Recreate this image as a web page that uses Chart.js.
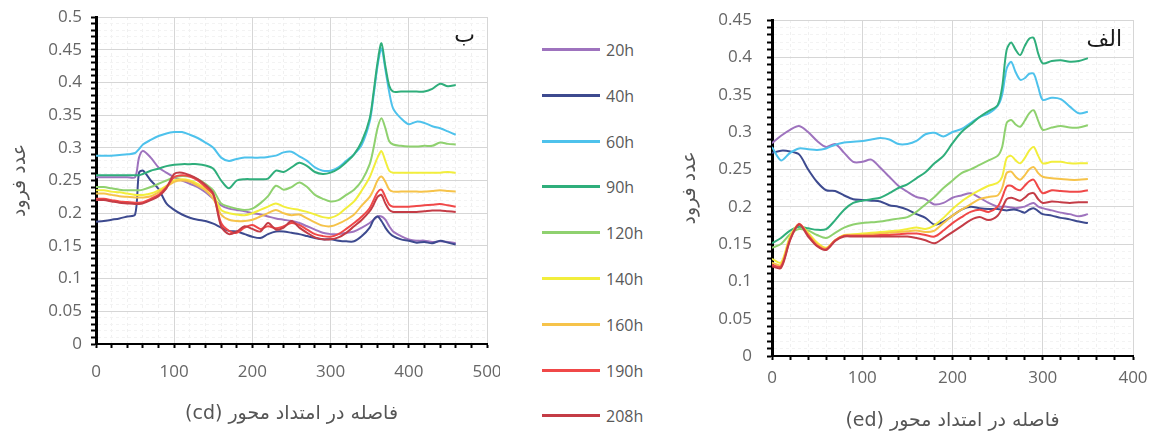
<!DOCTYPE html>
<html>
<head>
<meta charset="utf-8">
<script src="https://cdn.jsdelivr.net/npm/chart.js@4.4.1/dist/chart.umd.min.js"></script>
<style>
  body { margin: 0; background: #fff; width: 1150px; height: 432px; overflow: hidden; position: relative; }
  canvas { position: absolute; top: 0; }
  #chartB { left: 0; }
  #chartA { left: 650px; }
  #legend { position: absolute; left: 540px; top: 0; width: 120px; height: 432px; }
  .item { position: absolute; left: 0; width: 120px; height: 20px; }
  .item .sw { position: absolute; left: 2px; top: 9px; width: 58px; height: 3px; }
  .item .tx { position: absolute; left: 66px; top: 0; line-height: 20px; font: 16px 'Open Sans', sans-serif; color: #595959; }
</style>
</head>
<body>
<canvas id="chartB" width="500" height="432" dir="rtl"></canvas>
<div id="legend"></div>
<canvas id="chartA" width="500" height="432" dir="rtl"></canvas>
<script>
// series shared by both panels
const seriesNames = ['20h', '40h', '60h', '90h', '120h', '140h', '160h', '190h', '208h'];
const seriesColors = ['#9e73be', '#3d4a8f', '#4ec2ec', '#2fae7b', '#8fd16f', '#f2ee3c', '#f6c34a', '#f04848', '#c43c46'];

// left panel (ب): distance along cd
const xB = [0, 10, 20, 30, 40, 50, 55, 60, 70, 80, 90, 100, 110, 120, 130, 140, 150, 160, 170, 180, 190, 200, 210, 220, 230, 240, 250, 260, 270, 280, 290, 300, 310, 320, 330, 340, 350, 355, 360, 365, 370, 375, 380, 390, 400, 410, 420, 430, 440, 450, 460];
const b20 = [0.255, 0.255, 0.255, 0.255, 0.255, 0.255, 0.285, 0.295, 0.285, 0.27, 0.262, 0.255, 0.25, 0.245, 0.24, 0.232, 0.222, 0.212, 0.207, 0.205, 0.203, 0.2, 0.198, 0.195, 0.192, 0.19, 0.188, 0.185, 0.18, 0.175, 0.17, 0.168, 0.168, 0.17, 0.172, 0.178, 0.185, 0.19, 0.195, 0.195, 0.19, 0.18, 0.172, 0.165, 0.16, 0.158, 0.158, 0.156, 0.157, 0.156, 0.154];
const b40 = [0.187, 0.188, 0.19, 0.192, 0.195, 0.198, 0.262, 0.265, 0.25, 0.237, 0.215, 0.205, 0.198, 0.193, 0.19, 0.188, 0.184, 0.178, 0.173, 0.172, 0.168, 0.164, 0.162, 0.168, 0.172, 0.172, 0.17, 0.168, 0.165, 0.162, 0.16, 0.16, 0.158, 0.157, 0.157, 0.165, 0.178, 0.19, 0.195, 0.188, 0.178, 0.17, 0.165, 0.16, 0.158, 0.155, 0.156, 0.154, 0.158, 0.155, 0.152];
const b60 = [0.288, 0.288, 0.288, 0.289, 0.29, 0.292, 0.298, 0.305, 0.312, 0.318, 0.322, 0.324, 0.324, 0.32, 0.315, 0.308, 0.3, 0.285, 0.28, 0.283, 0.285, 0.285, 0.285, 0.286, 0.288, 0.293, 0.294, 0.287, 0.28, 0.27, 0.265, 0.265, 0.27, 0.28, 0.29, 0.305, 0.34, 0.38, 0.425, 0.452, 0.42, 0.385, 0.36, 0.345, 0.336, 0.34, 0.338, 0.333, 0.33, 0.325, 0.32];
const b90 = [0.258, 0.258, 0.258, 0.258, 0.258, 0.258, 0.258, 0.26, 0.265, 0.268, 0.272, 0.274, 0.275, 0.275, 0.275, 0.273, 0.268, 0.25, 0.238, 0.25, 0.252, 0.252, 0.252, 0.253, 0.265, 0.263, 0.27, 0.277, 0.272, 0.263, 0.26, 0.262, 0.268, 0.278, 0.29, 0.31, 0.345, 0.385, 0.43, 0.46, 0.425, 0.395, 0.386, 0.386, 0.386, 0.386, 0.386, 0.39, 0.398, 0.394, 0.396];
const b120 = [0.24, 0.24, 0.238, 0.236, 0.235, 0.235, 0.235, 0.236, 0.24, 0.245, 0.25, 0.255, 0.257, 0.256, 0.252, 0.245, 0.235, 0.215, 0.21, 0.207, 0.205, 0.207, 0.215, 0.226, 0.242, 0.236, 0.24, 0.247, 0.24, 0.228, 0.222, 0.218, 0.22, 0.228, 0.236, 0.25, 0.275, 0.3, 0.33, 0.345, 0.33, 0.31, 0.305, 0.303, 0.302, 0.302, 0.303, 0.303, 0.308, 0.306, 0.305];
const b140 = [0.235, 0.235, 0.233, 0.232, 0.23, 0.228, 0.228, 0.228, 0.23, 0.235, 0.242, 0.25, 0.252, 0.25, 0.245, 0.238, 0.228, 0.205, 0.2, 0.198, 0.197, 0.2, 0.205, 0.21, 0.215, 0.21, 0.207, 0.205, 0.202, 0.198, 0.194, 0.193, 0.198, 0.208, 0.218, 0.235, 0.255, 0.27, 0.285, 0.295, 0.28, 0.265, 0.262, 0.262, 0.262, 0.262, 0.262, 0.262, 0.262, 0.263, 0.262];
const b160 = [0.23, 0.23, 0.228, 0.226, 0.225, 0.224, 0.224, 0.224, 0.226, 0.232, 0.24, 0.248, 0.25, 0.248, 0.242, 0.235, 0.222, 0.198, 0.19, 0.188, 0.188, 0.19, 0.195, 0.2, 0.205, 0.2, 0.197, 0.198, 0.192, 0.186, 0.181, 0.18, 0.184, 0.19, 0.198, 0.212, 0.225, 0.236, 0.25, 0.256, 0.248, 0.236, 0.233, 0.233, 0.233, 0.233, 0.233, 0.234, 0.235, 0.234, 0.233];
const b190 = [0.222, 0.222, 0.22, 0.218, 0.217, 0.216, 0.216, 0.217, 0.222, 0.228, 0.24, 0.255, 0.258, 0.256, 0.25, 0.24, 0.228, 0.185, 0.173, 0.17, 0.178, 0.182, 0.176, 0.18, 0.177, 0.18, 0.185, 0.182, 0.175, 0.168, 0.165, 0.164, 0.168, 0.176, 0.185, 0.195, 0.208, 0.22, 0.232, 0.236, 0.225, 0.213, 0.21, 0.21, 0.21, 0.211, 0.212, 0.213, 0.214, 0.212, 0.21];
const b208 = [0.22, 0.22, 0.218, 0.216, 0.215, 0.214, 0.214, 0.215, 0.22, 0.226, 0.238, 0.26, 0.262, 0.258, 0.252, 0.243, 0.23, 0.18, 0.168, 0.172, 0.18, 0.176, 0.172, 0.185, 0.175, 0.178, 0.188, 0.178, 0.17, 0.163, 0.16, 0.16, 0.163, 0.17, 0.18, 0.19, 0.203, 0.213, 0.225, 0.228, 0.215, 0.205, 0.202, 0.202, 0.202, 0.202, 0.203, 0.204, 0.204, 0.203, 0.202];

// right panel (الف): distance along ed
const xA = [0, 10, 20, 30, 40, 50, 60, 70, 80, 90, 100, 110, 120, 130, 140, 150, 160, 170, 180, 190, 200, 210, 220, 230, 240, 250, 255, 260, 265, 270, 275, 280, 285, 290, 295, 300, 310, 320, 330, 340, 350];
const a20 = [0.285, 0.295, 0.303, 0.308, 0.3, 0.288, 0.28, 0.284, 0.272, 0.26, 0.26, 0.263, 0.252, 0.24, 0.228, 0.22, 0.213, 0.21, 0.203, 0.205, 0.212, 0.215, 0.218, 0.212, 0.205, 0.2, 0.2, 0.2, 0.199, 0.198, 0.199, 0.2, 0.203, 0.205, 0.2, 0.198, 0.195, 0.192, 0.19, 0.187, 0.19];
const a40 = [0.272, 0.275, 0.274, 0.27, 0.25, 0.233, 0.222, 0.221, 0.215, 0.21, 0.209, 0.208, 0.207, 0.202, 0.2, 0.196, 0.19, 0.185, 0.176, 0.18, 0.188, 0.196, 0.2, 0.198, 0.197, 0.197, 0.196, 0.195, 0.196, 0.196, 0.194, 0.192, 0.196, 0.198, 0.194, 0.19, 0.188, 0.185, 0.183, 0.18, 0.178];
const a60 = [0.28, 0.262, 0.272, 0.278, 0.277, 0.276, 0.278, 0.283, 0.286, 0.287, 0.288, 0.29, 0.292, 0.29, 0.284, 0.284, 0.288, 0.297, 0.299, 0.294, 0.3, 0.304, 0.312, 0.32, 0.325, 0.335, 0.35, 0.385, 0.394, 0.38, 0.37, 0.372, 0.378, 0.378, 0.36, 0.343, 0.346, 0.344, 0.334, 0.325, 0.327];
const a90 = [0.151, 0.158, 0.168, 0.173, 0.171, 0.169, 0.17, 0.182, 0.196, 0.205, 0.208, 0.21, 0.212, 0.218, 0.225, 0.23, 0.238, 0.246, 0.258, 0.268, 0.285, 0.3, 0.31, 0.32, 0.328, 0.336, 0.36, 0.41, 0.42, 0.41, 0.403, 0.415, 0.425, 0.426, 0.405, 0.392, 0.395, 0.396, 0.394, 0.395, 0.399];
const a120 = [0.145, 0.15, 0.163, 0.17, 0.168, 0.162, 0.158, 0.165, 0.172, 0.176, 0.178, 0.179, 0.18, 0.182, 0.184, 0.186, 0.193, 0.203, 0.213, 0.225, 0.235, 0.245, 0.25, 0.256, 0.262, 0.268, 0.28, 0.312, 0.316, 0.31, 0.307, 0.315, 0.325, 0.329, 0.315, 0.303, 0.306, 0.308, 0.306, 0.306, 0.309];
const a140 = [0.13, 0.125, 0.16, 0.176, 0.165, 0.152, 0.145, 0.155, 0.162, 0.163, 0.164, 0.165, 0.166, 0.167, 0.168, 0.17, 0.172, 0.17, 0.175, 0.185, 0.197, 0.207, 0.215, 0.222, 0.228, 0.232, 0.24, 0.265, 0.268, 0.262, 0.258, 0.265, 0.275, 0.28, 0.268, 0.258, 0.26, 0.26, 0.258, 0.258, 0.258];
const a160 = [0.125, 0.122, 0.158, 0.176, 0.163, 0.15, 0.144, 0.155, 0.161, 0.162, 0.162, 0.163, 0.164, 0.165, 0.166, 0.167, 0.168, 0.166, 0.168, 0.178, 0.188, 0.196, 0.203, 0.21, 0.213, 0.215, 0.225, 0.245, 0.247, 0.24, 0.236, 0.242, 0.25, 0.253, 0.245, 0.24, 0.238, 0.237, 0.236, 0.236, 0.237];
const a190 = [0.122, 0.12, 0.156, 0.177, 0.162, 0.148, 0.143, 0.155, 0.161, 0.161, 0.161, 0.161, 0.162, 0.162, 0.163, 0.164, 0.164, 0.162, 0.16, 0.168, 0.178, 0.186, 0.193, 0.196, 0.193, 0.2, 0.212, 0.227, 0.228, 0.224, 0.222, 0.228, 0.234, 0.236, 0.226, 0.218, 0.222, 0.221, 0.22, 0.22, 0.222];
const a208 = [0.12, 0.118, 0.155, 0.176, 0.16, 0.147, 0.142, 0.154, 0.16, 0.16, 0.16, 0.16, 0.16, 0.16, 0.16, 0.16, 0.158, 0.155, 0.151, 0.158, 0.166, 0.174, 0.182, 0.186, 0.182, 0.188, 0.198, 0.21, 0.212, 0.21, 0.208, 0.212, 0.217, 0.218, 0.21, 0.205, 0.207, 0.206, 0.205, 0.206, 0.206];

const yTitle = 'عدد فرود';
const tickFont = { family: "'Open Sans', 'DejaVu Sans', sans-serif", size: 17 };
const arabicFont = { family: "'DejaVu Sans', sans-serif", size: 19 };

// label in the top right corner of the plot
const cornerLabel = {
  id: 'cornerLabel',
  afterDatasetsDraw(chart, args, opts) {
    const { ctx, chartArea } = chart;
    ctx.save();
    ctx.font = "22px 'DejaVu Sans', sans-serif";
    ctx.fillStyle = '#1a1a1a';
    ctx.textAlign = 'right';
    ctx.textBaseline = 'middle';
    ctx.fillText(opts.text, chartArea.right - opts.dx, chartArea.top + opts.dy);
    ctx.restore();
  }
};

function points(xs, ys) {
  return xs.map((x, i) => ({ x: x, y: ys[i] }));
}

function makeChart(id, xs, allYs, o) {
  const isMajorX = v => v % 100 === 0;
  const isMajorY = v => Math.round(v * 100) % 5 === 0;
  return new Chart(document.getElementById(id), {
    type: 'line',
    data: {
      datasets: allYs.map((ys, i) => ({
        label: seriesNames[i],
        data: points(xs, ys),
        borderColor: seriesColors[i],
        borderWidth: 2,
        pointRadius: 0,
        tension: 0.3,
        fill: false,
        order: -i
      }))
    },
    options: {
      responsive: false,
      animation: false,
      layout: { padding: o.padding },
      plugins: {
        legend: { display: false },
        tooltip: { enabled: false },
        cornerLabel: { text: o.corner, dx: o.cornerDx, dy: o.cornerDy }
      },
      scales: {
        x: {
          type: 'linear',
          min: 0,
          max: o.xMax,
          afterFit: s => { s.height = o.xAxisH; s.paddingLeft = 0; s.paddingRight = 0; },
          ticks: {
            stepSize: 20, autoSkip: false, maxRotation: 0, padding: o.xTickPad,
            color: '#666', font: tickFont,
            callback: v => isMajorX(v) ? String(v) : ''
          },
          grid: {
            color: c => (c.tick && isMajorX(c.tick.value)) ? '#d6d6d6' : '#f0f0f0',
            tickColor: '#000', tickLength: 4, tickWidth: 2
          },
          border: {
            color: '#000', width: 2,
            dash: c => (c.tick && !isMajorX(c.tick.value)) ? [3, 3] : []
          },
          title: {
            display: true, text: o.xTitle, color: '#555', font: arabicFont,
            padding: { top: 0, bottom: o.xTitlePad }
          }
        },
        y: {
          min: 0,
          max: o.yMax,
          afterFit: s => { s.width = o.yAxisW; s.paddingTop = 0; s.paddingBottom = 0; },
          ticks: {
            stepSize: 0.01, autoSkip: false, padding: o.yTickPad,
            color: '#666', font: tickFont,
            callback: v => isMajorY(v) ? String(Math.round(v * 100) / 100) : ''
          },
          grid: {
            color: c => (c.tick && isMajorY(c.tick.value)) ? '#d6d6d6' : '#f3f3f3',
            tickColor: '#000', tickLength: 5, tickWidth: 2
          },
          border: {
            color: '#000', width: 3,
            dash: c => (c.tick && !isMajorY(c.tick.value)) ? [3, 3] : []
          },
          title: {
            display: true, text: yTitle, color: '#555', font: arabicFont,
            padding: { top: o.yTitlePad, bottom: 0 }
          }
        }
      }
    },
    plugins: [cornerLabel]
  });
}

makeChart('chartB', xB, [b20, b40, b60, b90, b120, b140, b160, b190, b208], {
  xMax: 500, yMax: 0.5,
  padding: { left: 0, right: 13, top: 17, bottom: 0 },
  yAxisW: 96, xAxisH: 88,
  xTickPad: 14, yTickPad: 9,
  xTitle: 'فاصله در امتداد محور (cd)', xTitlePad: 7, yTitlePad: 9,
  corner: 'ب', cornerDx: 12, cornerDy: 19
});

makeChart('chartA', xA, [a20, a40, a60, a90, a120, a140, a160, a190, a208], {
  xMax: 400, yMax: 0.45,
  padding: { left: 0, right: 17, top: 20, bottom: 0 },
  yAxisW: 122, xAxisH: 76,
  xTickPad: 8, yTickPad: 15,
  xTitle: 'فاصله در امتداد محور (ed)', xTitlePad: 0, yTitlePad: 29,
  corner: 'الف', cornerDx: 11, cornerDy: 20
});

// legend in the middle column
const legend = document.getElementById('legend');
seriesNames.forEach((name, i) => {
  const item = document.createElement('div');
  item.className = 'item';
  item.style.top = (39 + i * 45.8) + 'px';
  item.innerHTML = '<span class="sw" style="background:' + seriesColors[i] + '"></span><span class="tx">' + name + '</span>';
  legend.appendChild(item);
});
</script>
</body>
</html>
